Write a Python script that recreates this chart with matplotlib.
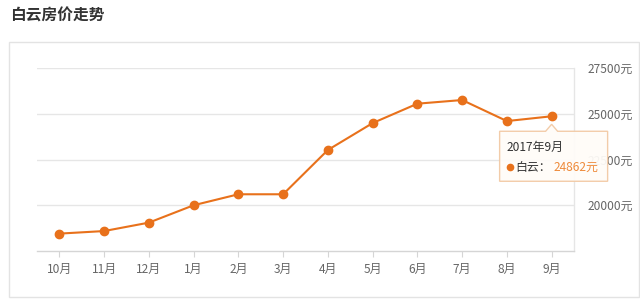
import matplotlib
matplotlib.use('Agg')
import matplotlib.pyplot as plt
from matplotlib.patches import Rectangle, Polygon
from matplotlib.lines import Line2D

plt.rcParams['font.family'] = ['Noto Sans CJK SC', 'DejaVu Sans']

# 数据
months = ['10月', '11月', '12月', '1月', '2月', '3月', '4月', '5月', '6月', '7月', '8月', '9月']
prices = [18450, 18590, 19050, 20000, 20600, 20600, 23020, 24490, 25550, 25750, 24600, 24862]
y_ticks = [20000, 22500, 25000, 27500]
tip_title = '2017年9月'
tip_name = '白云'

W, H = 640, 305
line_color = '#e8711b'
grid_color = '#e6e6e6'
text_gray = '#666666'

fig = plt.figure(figsize=(W / 100, H / 100), dpi=100)
fig.patch.set_facecolor('white')


def px(x, y):
    # 像素坐标 -> 图坐标（y 从上往下）
    return x / W, 1 - y / H


# 标题
fig.text(*px(10, 16), '白云房价走势', fontsize=11.3, fontweight='bold',
         color='#333333', va='center', ha='left')

# 外框
fig.patches.append(Rectangle(px(9, 297), (639 - 9) / W, (297 - 42) / H,
                             transform=fig.transFigure, fill=False,
                             edgecolor='#e3e3e3', linewidth=1))

# 绘图区
left, right, top, bottom = 37, 574, 68, 251
ax = fig.add_axes([left / W, 1 - bottom / H, (right - left) / W, (bottom - top) / H])
ax.set_xlim(-0.5, len(months) - 0.5)
ax.set_ylim(17500, 27500)

x = list(range(len(months)))
ax.plot(x, prices, color=line_color, linewidth=1.5, marker='o',
        markersize=6, markerfacecolor=line_color, markeredgecolor=line_color,
        zorder=3, clip_on=False)

for spine in ['left', 'top']:
    ax.spines[spine].set_visible(False)
ax.spines['right'].set_color(grid_color)
ax.spines['bottom'].set_color('#d5d5d5')
ax.spines['right'].set_linewidth(1)
ax.spines['bottom'].set_linewidth(1)

ax.set_yticks(y_ticks)
ax.set_yticklabels([f'{v}元' for v in y_ticks])
ax.yaxis.tick_right()
ax.tick_params(axis='y', length=0, pad=10, labelsize=8.6, labelcolor=text_gray)
ax.yaxis.grid(True, color=grid_color, linewidth=1)

ax.set_xticks(x)
ax.set_xticklabels(months)
ax.tick_params(axis='x', length=4, color='#d5d5d5', pad=4.5, labelsize=8.6,
               labelcolor=text_gray)
ax.set_axisbelow(True)

# 提示框（挂在最后一个点上）
fig.canvas.draw()
dx, dy = ax.transData.transform((x[-1], prices[-1]))
ppx, ppy = dx, H - dy

bx0, bx1 = ppx - 52, ppx + 56
by0, by1 = ppy + 15, ppy + 65
outline = [(bx0, by0), (ppx - 6, by0), (ppx, ppy + 8), (ppx + 6, by0),
           (bx1, by0), (bx1, by1), (bx0, by1)]
fig.patches.append(Polygon([px(a, b) for a, b in outline], closed=True,
                           transform=fig.transFigure, facecolor='#fffcf8',
                           edgecolor='#f2c9a4', linewidth=1, alpha=0.94,
                           zorder=10))
fig.text(*px(bx0 + 7, ppy + 31), tip_title, fontsize=8.6, color='#333333',
         va='center', ha='left', zorder=11)
fig.add_artist(Line2D([(bx0 + 10) / W], [1 - (ppy + 51) / H], marker='o',
                      markersize=4.5, color=line_color, linestyle='none',
                      transform=fig.transFigure, zorder=11))
fig.text(*px(bx0 + 16, ppy + 51), f'{tip_name}：', fontsize=8.6,
         color='#333333', va='center', ha='left', zorder=11)
fig.text(*px(bx0 + 54, ppy + 51), f'{prices[-1]}元', fontsize=8.6,
         color='#ee8a3a', va='center', ha='left', zorder=11)

fig.savefig('out.png', dpi=100)
